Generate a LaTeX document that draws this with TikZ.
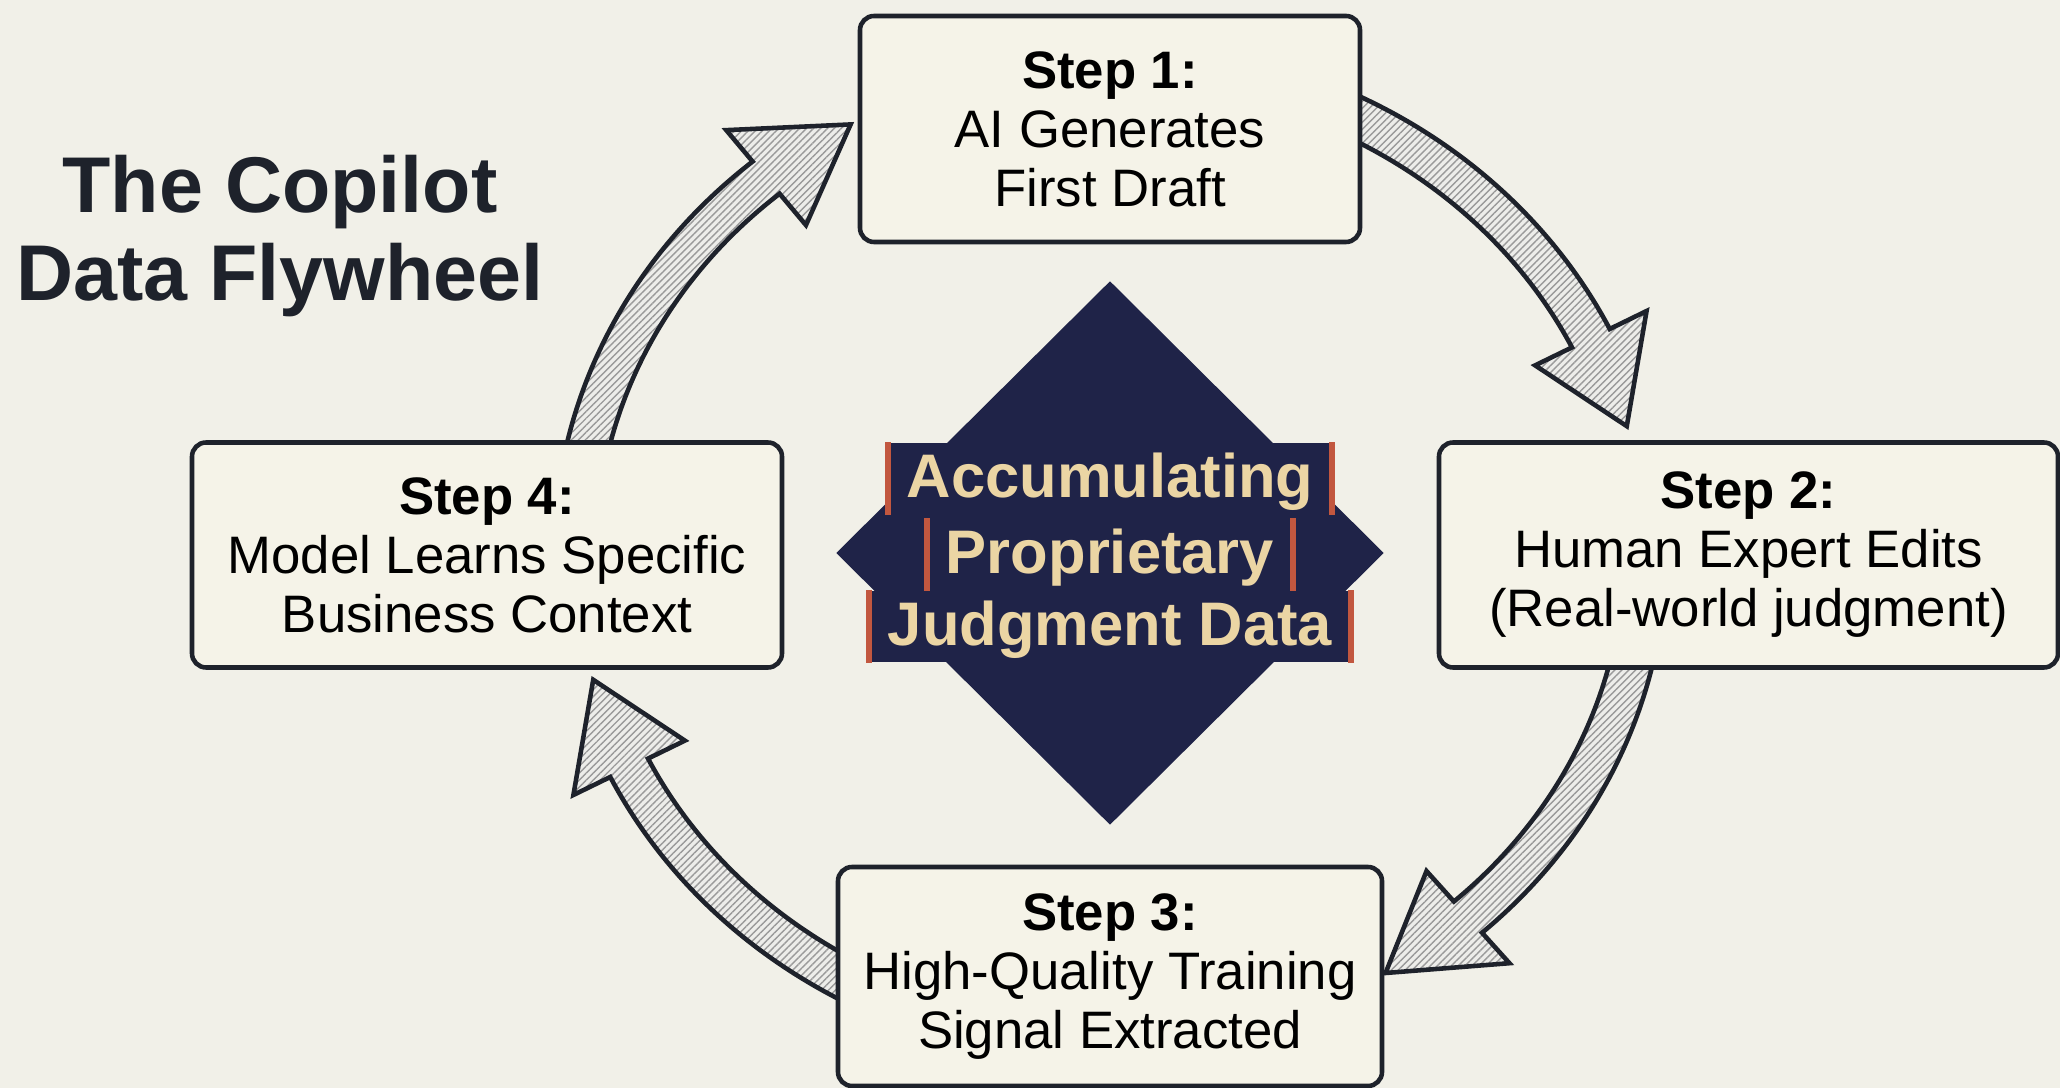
\documentclass[tikz,border=0pt]{standalone}
\usepackage{fontspec}
\setmainfont{Liberation Sans}
\usetikzlibrary{calc,shapes.geometric,patterns.meta}

\begin{document}
\begin{tikzpicture}
  \definecolor{paper}{HTML}{F1F0E8}
  \definecolor{boxfill}{HTML}{F5F3E8}
  \definecolor{ink}{HTML}{1E222B}
  \definecolor{navy}{HTML}{1F2348}
  \definecolor{tan}{HTML}{EBD5A4}
  \definecolor{rust}{HTML}{C2573F}
  \definecolor{hatchbg}{HTML}{EDEDEA}
  \definecolor{hatch}{HTML}{9A9A9A}
  \tikzstyle{stepbox}=[draw=ink, fill=boxfill, line width=1.3pt, rounded corners=4pt,
    align=center, inner sep=0pt, font=\fontsize{15}{16.8}\selectfont]
  \tikzstyle{flowarrow}=[draw=ink, line width=1.3pt, line join=miter,
    preaction={fill=hatchbg}, pattern={Lines[angle=45,distance=1.4pt,line width=0.4pt]},
    pattern color=hatch]
  \tikzstyle{coreline}=[fill=navy, text=tan, anchor=base, inner xsep=0.18cm, inner ysep=0pt,
    text height=0.55cm, text depth=0.16cm, font=\fontsize{17.5}{21}\selectfont\bfseries]

  \fill[paper] (0,0) rectangle (20.6,10.88);
  \useasboundingbox (0,0) rectangle (20.6,10.88);

  \coordinate (hub) at (11.10,5.35);

  % curved block arrows round the hub (start / head / tip angles)
  \foreach \s/\h/\p in {66/26/15, -8/-48/-59, 246/206/195, 172/130/119}
    \draw[flowarrow] ($(hub)+(\s:5.56 and 5.11)$)
      arc[start angle=\s, end angle=\h, x radius=5.56cm, y radius=5.11cm]
      -- ($(hub)+(\h:5.97 and 5.52)$) -- ($(hub)+(\p:5.35 and 4.90)$)
      -- ($(hub)+(\h:4.73 and 4.28)$) -- ($(hub)+(\h:5.14 and 4.69)$)
      arc[start angle=\h, end angle=\s, x radius=5.14cm, y radius=4.69cm] -- cycle;

  \node[diamond, fill=navy, inner sep=0pt, minimum width=5.48cm, minimum height=5.44cm] (core) at (hub) {};
  \node[coreline] (acc) at (11.10,5.90) {Accumulating};
  \node[coreline] (prop) at (11.10,5.14) {Proprietary};
  \node[coreline] (judg) at (11.10,4.42) {Judgment Data};
  \foreach \n in {acc,prop,judg}
    \draw[rust, line width=1.6pt] (\n.north west) -- (\n.south west) (\n.north east) -- (\n.south east);

  \node[stepbox, minimum width=5.00cm, minimum height=2.26cm] (step1) at (11.10,9.59)
    {\textbf{Step 1:}\\AI Generates\\First Draft};
  \node[stepbox, minimum width=6.19cm, minimum height=2.25cm] (step2) at (17.485,5.33)
    {\textbf{Step 2:}\\Human Expert Edits\\(Real-world judgment)};
  \node[stepbox, minimum width=5.44cm, minimum height=2.19cm] (step3) at (11.10,1.115)
    {\textbf{Step 3:}\\High-Quality Training\\Signal Extracted};
  \node[stepbox, minimum width=5.90cm, minimum height=2.25cm] (step4) at (4.87,5.33)
    {\textbf{Step 4:}\\Model Learns Specific\\Business Context};

  \node[text=ink, align=center, font=\fontsize{22.5}{24.8}\selectfont\bfseries] (title) at (2.80,8.52)
    {The Copilot\\Data Flywheel};
\end{tikzpicture}
\end{document}
